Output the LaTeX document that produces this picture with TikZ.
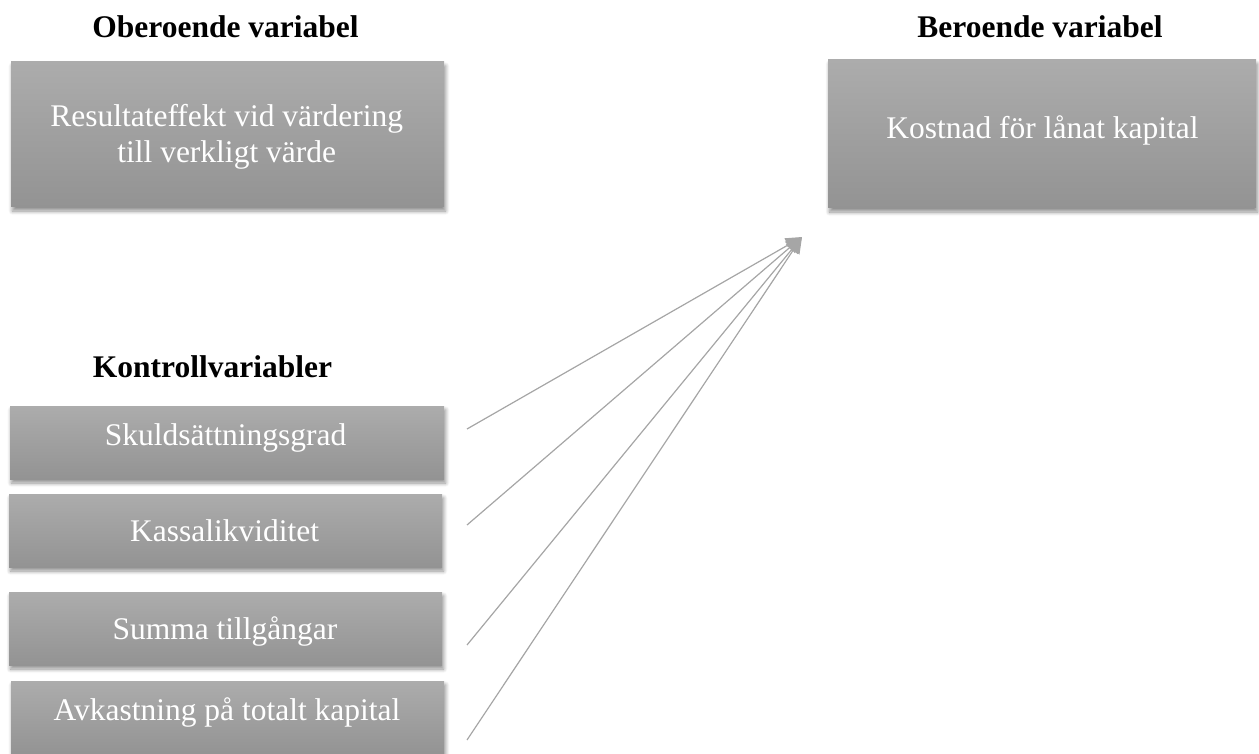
\documentclass[tikz,border=0pt]{standalone}
\usepackage{fontspec}
\setmainfont{Liberation Serif}
\usetikzlibrary{arrows.meta,shadows.blur}
\definecolor{boxtop}{RGB}{172,172,172}
\definecolor{boxbot}{RGB}{147,147,147}
\definecolor{linegray}{RGB}{166,166,166}
\tikzset{
  varbox/.style={rectangle, inner sep=0pt, top color=boxtop, bottom color=boxbot, draw=none,
    blur shadow={shadow xshift=1.5pt, shadow yshift=-4pt, shadow blur radius=4pt, shadow blur steps=8, shadow opacity=45}},
  boxtext/.style={anchor=base, text=white, font=\fontsize{31.5}{36.3}\selectfont, align=center, inner sep=0pt},
  heading/.style={anchor=base, font=\fontsize{31.5}{36}\selectfont\bfseries, inner sep=0pt},
  conn/.style={draw=linegray, line width=1.2pt, -{Triangle[length=16pt,width=15pt]}, fill=linegray}
}
\begin{document}
\begin{tikzpicture}[x=1pt,y=-1pt]
\useasboundingbox (0,0) rectangle (1259,754);
% headings
\node[heading] (h1) at (225.5,38) {Oberoende variabel};
\node[heading] (h2) at (1040,38) {Beroende variabel};
\node[heading] (h3) at (212.5,377) {Kontrollvariabler};
% boxes
\node[varbox, minimum width=433pt, minimum height=145pt] (b1) at (227.5,134.5) {};
\node[varbox, minimum width=428pt, minimum height=148pt] (b2) at (1042,134) {};
\node[varbox, minimum width=434pt, minimum height=73pt] (c1) at (227,442.5) {};
\node[varbox, minimum width=433pt, minimum height=73pt] (c2) at (225.5,530.5) {};
\node[varbox, minimum width=433pt, minimum height=73pt] (c3) at (225.5,628.5) {};
\node[varbox, minimum width=433pt, minimum height=74pt] (c4) at (227.5,718) {};
% texts
\node[boxtext] (t1a) at (226.7,126.7) {Resultateffekt vid värdering};
\node[boxtext] (t1b) at (226.7,163) {till verkligt värde};
\node[boxtext] (t2) at (1042.5,139) {Kostnad för lånat kapital};
\node[boxtext] (tc1) at (225.5,445) {Skuldsättningsgrad};
\node[boxtext] (tc2) at (224.7,541.7) {Kassalikviditet};
\node[boxtext] (tc3) at (225,639) {Summa tillgångar};
\node[boxtext] (tc4) at (227,720) {Avkastning på totalt kapital};
% connectors
\coordinate (tip) at (802,237);
\coordinate (s1) at (467,429);
\coordinate (s2) at (467,525);
\coordinate (s3) at (467,645);
\coordinate (s4) at (467,740);
\draw[conn] (s1) -- (tip);
\draw[conn] (s2) -- (tip);
\draw[conn] (s3) -- (tip);
\draw[conn] (s4) -- (tip);
\end{tikzpicture}
\end{document}
